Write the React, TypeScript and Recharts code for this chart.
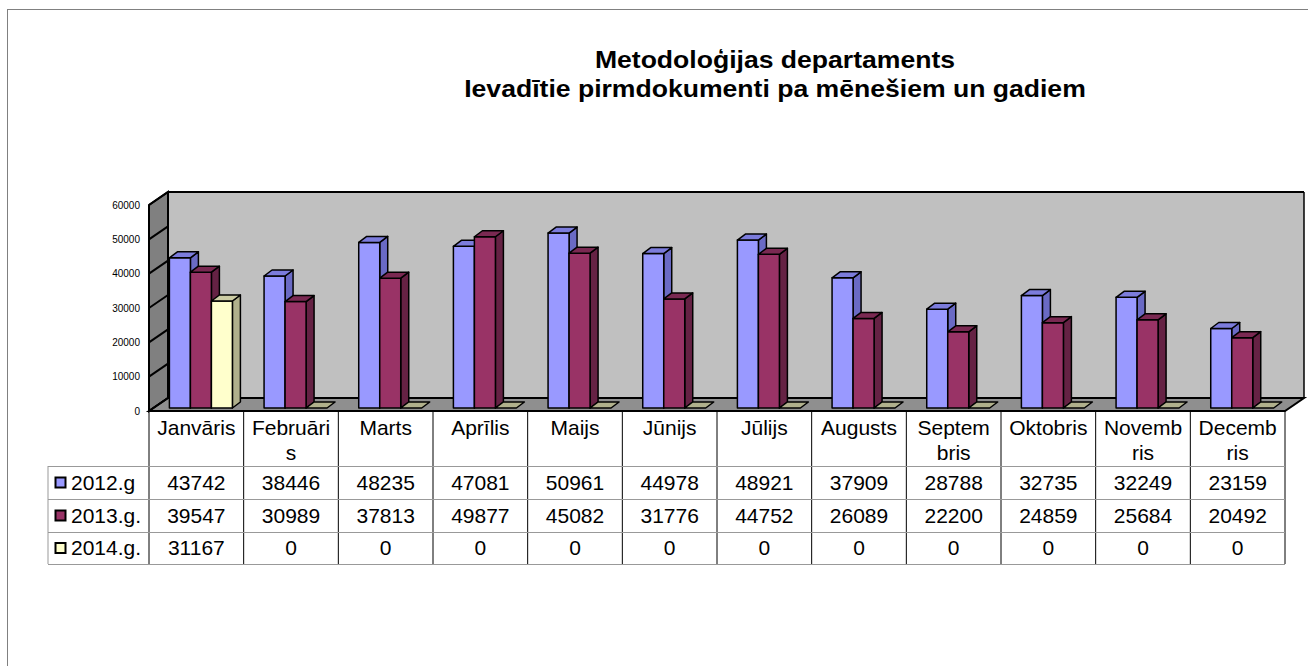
import React from 'react';
import { BarChart, Bar, XAxis, YAxis, CartesianGrid } from 'recharts';

const months = ['Janvāris', 'Februāris', 'Marts', 'Aprīlis', 'Maijs', 'Jūnijs', 'Jūlijs', 'Augusts', 'Septembris', 'Oktobris', 'Novembris', 'Decembris'];
// header cells wrap like in the original table
const monthLabels = ['Janvāris', 'Februāri\ns', 'Marts', 'Aprīlis', 'Maijs', 'Jūnijs', 'Jūlijs', 'Augusts', 'Septem\nbris', 'Oktobris', 'Novemb\nris', 'Decemb\nris'];
const values2012 = [43742, 38446, 48235, 47081, 50961, 44978, 48921, 37909, 28788, 32735, 32249, 23159];
const values2013 = [39547, 30989, 37813, 49877, 45082, 31776, 44752, 26089, 22200, 24859, 25684, 20492];
const values2014 = [31167, 0, 0, 0, 0, 0, 0, 0, 0, 0, 0, 0];
const yTicks = [0, 10000, 20000, 30000, 40000, 50000, 60000];

const series = [
  { key: 'y2012', name: '2012.g', values: values2012, front: '#9999FF', side: '#6A6AC4', top: '#7C7CDC' },
  { key: 'y2013', name: '2013.g.', values: values2013, front: '#993366', side: '#652244', top: '#7A2952' },
  { key: 'y2014', name: '2014.g.', values: values2014, front: '#FFFFCC', side: '#B0B08C', top: '#CCCCA4' },
];

const data = months.map((m, i) => {
  const row: any = { month: m };
  series.forEach((s) => (row[s.key] = s.values[i]));
  return row;
});

const W = 1308;
const H = 666;
// front plane of the 3d box
const FL = 149;
const FR = 1285;
const FT = 205;
const FB = 411;
// depth offset of the box
const DX = 19;
const DY = 13;
// bars sit a bit behind the front edge
const BAR_SHIFT_X = 4.4;
const BAR_SHIFT_Y = 3;
const BAR_DX = 8;
const BAR_DY = 6;

const bandW = (FR - FL) / 12;
const TABLE_LEFT = 48;
const rowTops = [466, 499, 532, 564];
const TABLE_FONT = 21;

const Bar3D = (props: any) => {
  const { x, y, width, height, colors } = props;
  if (x == null || y == null) return null;
  const h = Math.max(0, height || 0);
  const fx = x + BAR_SHIFT_X;
  const fy = y - BAR_SHIFT_Y;
  const w = width;
  const topPts = `${fx},${fy} ${fx + BAR_DX},${fy - BAR_DY} ${fx + w + BAR_DX},${fy - BAR_DY} ${fx + w},${fy}`;
  const sidePts = `${fx + w},${fy} ${fx + w + BAR_DX},${fy - BAR_DY} ${fx + w + BAR_DX},${fy + h - BAR_DY} ${fx + w},${fy + h}`;
  return (
    <g stroke="#000" strokeWidth={1.5} strokeLinejoin="round">
      {h > 0 && <polygon points={sidePts} fill={colors.side} />}
      {h > 0 && <rect x={fx} y={fy} width={w} height={h} fill={colors.front} />}
      <polygon points={topPts} fill={h > 0 ? colors.top : colors.side} />
    </g>
  );
};

const WallTick = (props: any) => {
  const { x, y, payload } = props;
  return (
    <g>
      <line x1={x} y1={y} x2={x + DX} y2={y - DY} stroke="#000" strokeWidth={2} />
      <text x={x - 9} y={y} textAnchor="end" dominantBaseline="central" fontSize={10} fill="#000" fontFamily="Liberation Sans, Arial, sans-serif">
        {payload.value}
      </text>
    </g>
  );
};

const abs = (extra: React.CSSProperties = {}): React.CSSProperties => ({ position: 'absolute', left: 0, top: 0, ...extra });

export default function App() {
  const font = 'Liberation Sans, Arial, sans-serif';
  return (
    <div style={{ position: 'absolute', left: 0, top: 0, width: W, height: H, overflow: 'hidden', background: '#fff', fontFamily: font }}>
      <div style={abs({ left: 7, top: 9, width: W, height: H, borderLeft: '1.5px solid #808080', borderTop: '1.5px solid #808080' })} />

      <div style={abs({ left: 375, top: 45, width: 800, textAlign: 'center', fontSize: 24, fontWeight: 'bold', lineHeight: '29px', color: '#000', transform: 'scaleX(1.107)', transformOrigin: '50% 50%' })}>
        Metodoloģijas departaments
        <br />
        Ievadītie pirmdokumenti pa mēnešiem un gadiem
      </div>

      {/* back wall */}
      <div style={abs()}>
        <BarChart width={W} height={H} data={data} margin={{ top: FT - DY, left: FL + DX, right: W - FR - DX, bottom: H - FB + DY }}>
          <XAxis dataKey="month" hide />
          <YAxis hide domain={[0, 60000]} ticks={yTicks} />
          <CartesianGrid vertical={false} fill="#C0C0C0" fillOpacity={1} stroke="#000" strokeWidth={2} />
        </BarChart>
      </div>

      {/* side wall and floor */}
      <svg width={W} height={H} style={abs()}>
        <polygon points={`${FL},${FB} ${FL},${FT} ${FL + DX},${FT - DY} ${FL + DX},${FB - DY}`} fill="#808080" stroke="#000" strokeWidth={2} />
        <line x1={FR + DX} y1={FT - DY} x2={FR + DX} y2={FB - DY} stroke="#000" strokeWidth={1.5} />
        <polygon points={`${FL},${FB} ${FL + DX},${FB - DY} ${FR + DX},${FB - DY} ${FR},${FB}`} fill="#8F8F8F" stroke="#000" strokeWidth={2} />
      </svg>

      {/* bars */}
      <div style={abs()}>
        <BarChart width={W} height={H} data={data} barGap={0} margin={{ top: FT, left: FL - 60, right: W - FR, bottom: H - FB }}>
          <XAxis dataKey="month" hide />
          <YAxis
            width={60}
            domain={[0, 60000]}
            ticks={yTicks}
            tickSize={0}
            tickMargin={0}
            tickLine={false}
            axisLine={{ stroke: '#000', strokeWidth: 2 }}
            tick={<WallTick />}
          />
          {series.map((s) => (
            <Bar
              key={s.key}
              dataKey={s.key}
              name={s.name}
              barSize={21}
              isAnimationActive={false}
              shape={(p: any) => <Bar3D {...p} colors={s} />}
            />
          ))}
        </BarChart>
      </div>

      {/* data table */}
      <svg width={W} height={H} style={abs()}>
        {Array.from({ length: 13 }).map((_, i) => (
          <line key={i} x1={FL + i * bandW} y1={FB} x2={FL + i * bandW} y2={rowTops[3]} stroke="#000" strokeWidth={1} />
        ))}
        <line x1={TABLE_LEFT} y1={rowTops[0]} x2={TABLE_LEFT} y2={rowTops[3]} stroke="#999" strokeWidth={1} />
        {rowTops.map((y) => (
          <line key={y} x1={TABLE_LEFT} y1={y + 0.5} x2={FR} y2={y + 0.5} stroke="#999" strokeWidth={1} />
        ))}
        {series.map((s, r) => (
          <rect key={s.key} x={TABLE_LEFT + 7.5} y={(rowTops[r] + rowTops[r + 1]) / 2 - 5} width={10} height={10} fill={s.front} stroke="#000" strokeWidth={2} />
        ))}
      </svg>

      {monthLabels.map((m, i) => (
        <div key={m} style={abs({ left: FL + i * bandW, top: FB + 4, width: bandW, textAlign: 'center', fontSize: TABLE_FONT, lineHeight: '25px', whiteSpace: 'pre', color: '#000' })}>
          {m}
        </div>
      ))}

      {series.map((s, r) => (
        <React.Fragment key={s.key}>
          <div style={abs({ left: TABLE_LEFT + 23, top: rowTops[r], height: rowTops[r + 1] - rowTops[r], lineHeight: `${rowTops[r + 1] - rowTops[r]}px`, fontSize: TABLE_FONT, color: '#000' })}>
            {s.name}
          </div>
          {s.values.map((v, i) => (
            <div key={i} style={abs({ left: FL + i * bandW, top: rowTops[r], width: bandW, textAlign: 'center', lineHeight: `${rowTops[r + 1] - rowTops[r]}px`, fontSize: TABLE_FONT, color: '#000' })}>
              {v}
            </div>
          ))}
        </React.Fragment>
      ))}
    </div>
  );
}
